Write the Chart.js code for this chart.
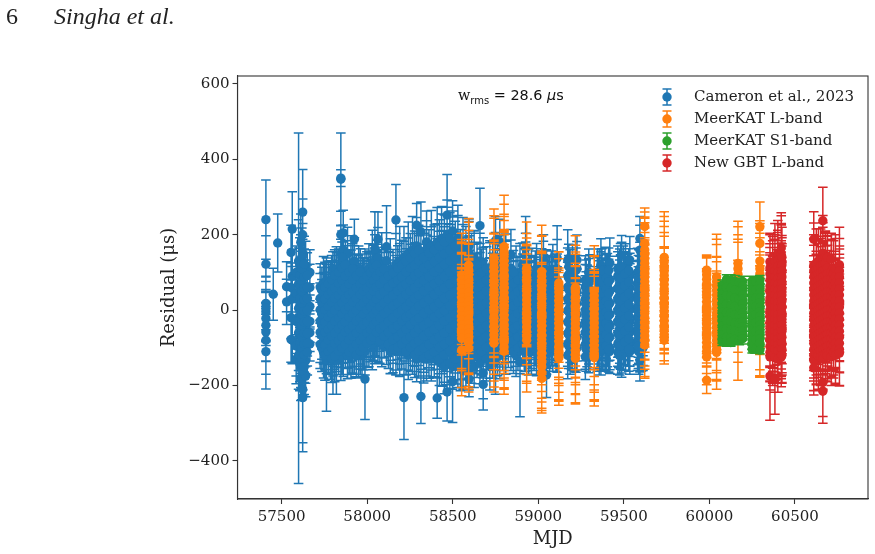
<!DOCTYPE html>
<html>
<head>
<meta charset="utf-8">
<title>Timing residuals</title>
<script src="https://cdn.jsdelivr.net/npm/chart.js@4"></script>
<style>
	body { margin: 0; background: #fff; }
	#wrap { position: relative; width: 875px; height: 554px; overflow: hidden; }
	canvas { position: absolute; left: 0; top: 0; }
	.head { position: absolute; top: 3px; font: 24px "Liberation Serif", serif; color: #222; white-space: nowrap; }
	#wrms { position: absolute; left: 458px; top: 87px; font: 14.4px "DejaVu Sans", sans-serif; color: #111; white-space: nowrap; }
	#wrms .w { font-family: "DejaVu Serif", serif; }
	#wrms sub { font-size: 10px; line-height: 0; }
</style>
</head>
<body>
<div id="wrap">
	<canvas id="residuos" width="875" height="554"></canvas>
	<div class="head" style="left:6px">6</div>
	<div class="head" style="left:54px;font-style:italic">Singha et al.</div>
	<div id="wrms"><span class="w">w</span><sub>rms</sub> = 28.6 <i>μ</i>s</div>
</div>
<script>
const seriesNames = ["Cameron et al., 2023", "MeerKAT L-band", "MeerKAT S1-band", "New GBT L-band"]
const seriesColors = ["#1f77b4", "#ff7f0e", "#2ca02c", "#d62728"]
const xTicks = [57500, 58000, 58500, 59000, 59500, 60000, 60500]
const yTicks = [-400, -200, 0, 200, 400, 600]

// one entry per observing epoch: MJD, then residuals and their errors in microseconds
const blueMjd = [
	57408, 57451, 57477, 57529, 57555, 57562, 57585, 57599, 57612, 57623, 57640, 57665,
	57725, 57745, 57762, 57785, 57800, 57820, 57846, 57860, 57885, 57905, 57925, 57950,
	57970, 57987, 58010, 58030, 58045, 58063, 58085, 58113, 58135, 58168, 58190, 58215,
	58240, 58265, 58289, 58314, 58347, 58375, 58409, 58435, 58467, 58499, 58530, 58560,
	58595, 58625, 58659, 58678, 58717, 58750, 58775, 58810, 58840, 58870, 58893, 58926,
	58960, 58990, 59030, 59048, 59085, 59110, 59172, 59200, 59226, 59275, 59295, 59345,
	59366, 59390, 59418, 59465, 59487, 59510, 59535, 59580, 59594, 59612
]
const blueRes = [
	[240, 122, 18, -4, -22, -40, -58, -80, -110, 5], [42], [178], [22, 62], [153, -20, 60, -78],
	[215, 90, -80, 30], [100, 45, -30, -95, -130], [5, 130, 70, -60, -120],
	[180, 130, 100, 72, 44, 15, -14, -42, -70, -98, -126, -150, -180],
	[260, 200, 150, 112, 84, 56, 28, 0, -28, -56, -84, -112, -140, -168, -210, -232],
	[118, 90, 62, 34, 6, -22, -50, -78, -106, -134, -175], [100, 60, 10, -30, -60, -90],
	[61, 31, 1, -29, -59, -91], [72, 42, 9, -21, -49, -81, -112], [78, 52, 21, -11, -41, -69, -99, -133],
	[59, 29, -3, -31, -61, -89, -122], [110, 71, 39, 11, -19, -51, -79, -111, -133],
	[108, 81, 49, 19, -9, -41, -71, -101, -133], [347, 350, 200, 150, 120, 89, 61, 29, -1, -31, -59, -92, -125],
	[205, 160, 131, 99, 71, 41, 9, -21, -51, -79, -110], [150, 111, 79, 49, 19, -11, -39, -71, -99, -120],
	[122, 91, 59, 29, 1, -31, -61, -89, -121], [188, 130, 101, 69, 39, 11, -19, -51, -79, -110],
	[110, 79, 51, 21, -9, -39, -69, -101, -120], [91, 61, 31, -1, -29, -59, -91, -120],
	[100, 71, 39, 9, -21, -49, -81, -110, -183], [110, 81, 49, 19, -9, -41, -69, -82],
	[122, 89, 61, 31, 1, -29, -61, -90], [162, 130, 101, 69, 41, 9, -19, -51, -80],
	[188, 139, 109, 79, 51, 19, -11, -41, -69, -82], [120, 91, 59, 31, -1, -31, -61, -90],
	[168, 131, 99, 71, 41, 11, -21, -49, -80], [109, 81, 49, 21, -11, -39, -71, -99, -110],
	[239, 121, 91, 61, 29, -1, -29, -59, -91, -110], [130, 99, 69, 41, 11, -19, -51, -81, -110],
	[140, 109, 79, 51, 19, -9, -41, -71, -101, -232], [150, 121, 89, 61, 29, 1, -31, -59, -89, -120],
	[160, 131, 99, 71, 39, 11, -21, -49, -81, -110], [225, 170, 139, 111, 81, 49, 21, -11, -39, -69, -101, -130],
	[208, 150, 119, 91, 59, 31, 1, -29, -61, -91, -120, -229], [181, 161, 129, 101, 69, 39, 11, -19, -51, -79, -111, -130],
	[170, 141, 109, 79, 51, 19, -11, -41, -69, -99, -130], [180, 151, 119, 91, 61, 29, -1, -31, -59, -91, -120, -233],
	[190, 159, 131, 99, 69, 41, 9, -19, -51, -81, -109, -140],
	[252, 200, 169, 141, 111, 79, 49, 21, -9, -41, -71, -101, -140, -217],
	[210, 179, 151, 119, 89, 61, 31, -1, -29, -59, -91, -121, -150, -190],
	[190, 161, 129, 99, 71, 41, 11, -21, -51, -79, -109, -150],
	[170, 139, 111, 81, 49, 19, -9, -39, -71, -101, -131, -160],
	[170, 151, 121, 89, 61, 31, -1, -29, -59, -91, -121, -160, -183],
	[140, 129, 99, 71, 41, 9, -19, -49, -81, -109, -150], [224, 130, 109, 81, 49, 19, -11, -41, -69, -101, -140],
	[120, 89, 61, 29, 1, -31, -59, -91, -120, -167, -197], [110, 99, 71, 39, 11, -21, -51, -79, -109, -150],
	[184, 140, 111, 79, 51, 21, -11, -39, -71, -99, -133], [181, 120, 89, 61, 31, -1, -29, -59, -91, -120],
	[130, 99, 69, 41, 9, -19, -51, -81, -110], [146, 110, 81, 49, 21, -9, -41, -71, -100],
	[90, 61, 29, -1, -29, -59, -91, -120], [99, 71, 39, 11, -21, -51, -79, -109, -137],
	[164, 128, 109, 79, 51, 21, -11, -39, -69, -101], [90, 61, 29, 1, -31, -59, -91, -110],
	[111, 71, 39, 9, -21, -49, -81, -112], [130, 109, 81, 49, 19, -9, -41, -71, -99],
	[90, 61, 31, -1, -29, -59, -91, -110, -172], [108, 71, 39, 11, -19, -51, -79, -100],
	[138, 109, 79, 51, 21, -9, -41, -69, -101], [133, 91, 61, 29, -1, -31, -61, -89, -120],
	[105, 69, 41, 9, -21, -49, -81, -100], [133, 110, 81, 49, 19, -11, -39, -71, -99],
	[80, 61, 29, 1, -31, -59, -91, -124], [100, 71, 39, 11, -19, -51, -79, -106],
	[100, 79, 49, 21, -9, -41, -71, -104], [119, 91, 59, 29, -1, -31, -61, -89, -110],
	[105, 71, 41, 9, -19, -49, -81, -100], [125, 81, 51, 19, -11, -39, -71, -100, -108],
	[110, 91, 59, 31, 1, -29, -61, -89, -112], [146, 110, 69, 39, 11, -21, -49, -81, -109, -118],
	[110, 81, 49, 19, -9, -41, -69, -99], [133, 91, 59, 31, 1, -31, -59, -89, -110],
	[100, 71, 39, 9, -19, -51, -81, -100], [190, 159, 110, 79, 51, 19, -11, -39, -71, -100, -133],
	[100, 91, 59, 29, -1, -31, -61, -89, -100]
]
const blueErr = [
	[105, 75, 70, 80, 72, 95, 78, 90, 99, 85], [69], [77], [60, 66], [72, 55, 65, 60],
	[99, 70, 62, 50], [70, 80, 85, 80, 65], [465, 110, 95, 100, 90],
	[75, 70, 65, 68, 80, 90, 75, 66, 85, 70, 62, 55, 60],
	[113, 95, 80, 76, 70, 85, 62, 90, 75, 68, 80, 66, 72, 60, 142, 144],
	[65, 70, 58, 85, 66, 70, 60, 72, 62, 60, 55], [60, 62, 60, 55, 50, 45],
	[62, 66, 71, 58, 80, 64], [70, 58, 66, 75, 60, 62, 68], [60, 70, 55, 68, 75, 62, 70, 135],
	[72, 64, 58, 70, 66, 55, 62], [45, 60, 58, 66, 72, 80, 70, 64, 90],
	[60, 72, 64, 58, 70, 66, 80, 62, 90], [123, 22, 62, 75, 68, 60, 72, 64, 70, 58, 66, 60, 62],
	[60, 66, 72, 58, 64, 70, 62, 75, 68, 60, 66], [70, 60, 66, 72, 58, 64, 68, 60, 55, 62],
	[75, 68, 60, 72, 64, 58, 66, 62, 60], [53, 62, 70, 58, 66, 72, 60, 64, 70, 60],
	[60, 66, 72, 58, 64, 70, 62, 55, 60], [58, 70, 64, 60, 68, 62, 66, 60],
	[62, 66, 60, 70, 58, 64, 68, 62, 107], [66, 72, 60, 58, 70, 64, 62, 68],
	[90, 60, 72, 66, 58, 64, 62, 68], [99, 70, 64, 60, 72, 66, 58, 70, 62],
	[72, 80, 66, 60, 72, 58, 64, 62, 68, 60], [85, 62, 70, 66, 58, 72, 64, 60],
	[109, 74, 66, 60, 72, 68, 62, 58, 64], [80, 72, 64, 68, 60, 66, 62, 70, 58],
	[94, 82, 70, 64, 72, 60, 66, 58, 68, 62], [92, 78, 66, 72, 60, 64, 68, 62, 66],
	[82, 74, 66, 70, 62, 60, 68, 64, 70, 111], [84, 70, 64, 72, 66, 60, 68, 62, 70, 64],
	[88, 72, 66, 60, 70, 64, 62, 68, 66, 60], [58, 76, 70, 66, 62, 72, 60, 64, 70, 66, 62, 60],
	[79, 72, 80, 66, 62, 70, 60, 64, 68, 66, 60, 72], [82, 76, 70, 64, 66, 60, 72, 62, 68, 60, 64, 58],
	[94, 80, 72, 66, 60, 70, 64, 62, 68, 60, 58], [92, 78, 70, 64, 72, 60, 66, 62, 68, 66, 60, 54],
	[85, 96, 80, 70, 66, 72, 60, 64, 62, 68, 60, 62],
	[108, 92, 104, 88, 76, 70, 64, 72, 60, 66, 68, 62, 58, 77],
	[80, 84, 96, 86, 72, 66, 64, 60, 70, 68, 62, 66, 60, 108],
	[88, 90, 84, 78, 70, 64, 66, 72, 60, 62, 58, 55],
	[76, 88, 80, 72, 66, 62, 68, 64, 60, 58, 52, 50],
	[72, 84, 76, 70, 64, 66, 60, 68, 62, 58, 60, 52, 47],
	[70, 82, 76, 68, 62, 64, 60, 66, 58, 60, 55], [99, 74, 68, 72, 64, 60, 66, 62, 58, 60, 55],
	[72, 78, 70, 62, 66, 60, 64, 58, 60, 68, 68], [74, 80, 68, 64, 60, 66, 62, 58, 72, 62],
	[64, 66, 76, 70, 62, 60, 66, 64, 58, 60, 90], [60, 78, 70, 64, 60, 62, 66, 58, 60, 62],
	[72, 84, 68, 62, 64, 60, 66, 58, 60], [68, 76, 70, 64, 62, 60, 58, 66, 60],
	[80, 70, 66, 62, 60, 64, 58, 56], [78, 72, 66, 62, 60, 58, 64, 60, 146],
	[84, 76, 72, 66, 62, 60, 58, 64, 60, 62], [74, 68, 62, 60, 66, 58, 64, 60],
	[66, 70, 62, 60, 58, 64, 60, 62], [70, 74, 66, 62, 60, 58, 64, 60, 62],
	[70, 66, 62, 60, 58, 64, 60, 60, 60], [66, 70, 64, 60, 58, 62, 60, 62],
	[86, 78, 70, 64, 60, 62, 58, 60, 64], [80, 74, 66, 62, 60, 64, 58, 60, 62],
	[68, 72, 64, 60, 58, 62, 60, 60], [66, 72, 64, 60, 62, 58, 60, 64, 60],
	[64, 60, 62, 58, 60, 62, 66, 60], [62, 66, 60, 58, 62, 60, 64, 60],
	[62, 60, 58, 62, 60, 64, 60, 58], [70, 64, 60, 62, 58, 60, 64, 60, 62],
	[62, 64, 60, 58, 62, 60, 64, 60], [66, 62, 60, 58, 64, 60, 62, 58, 60],
	[60, 64, 62, 58, 60, 62, 64, 60, 58], [52, 70, 64, 60, 58, 62, 60, 64, 58, 60],
	[66, 62, 60, 58, 64, 60, 62, 60], [62, 60, 64, 58, 60, 62, 64, 60, 60],
	[64, 60, 62, 58, 60, 62, 64, 60], [58, 66, 70, 64, 62, 60, 58, 62, 60, 64, 55],
	[60, 62, 64, 58, 60, 62, 60, 58, 60]
]

// denser epochs inside the crowded stretch, one typical error per epoch
const blueDenseMjd = [
	57606, 57618, 57632, 57650, 57735, 57753, 57773, 57792, 57810, 57833, 57853, 57872, 57895,
	57915, 57937, 57960, 57978, 57998, 58020, 58037, 58054, 58074, 58099, 58124, 58151, 58179,
	58202, 58227, 58252, 58277, 58301, 58330, 58361, 58392, 58422, 58451, 58483, 58515, 58545,
	58577, 58610, 58642, 58668, 58697, 58733, 58762, 58792, 58825, 58855, 58881, 58909, 58943,
	58975, 59010, 59039, 59066, 59097, 59186, 59213, 59285, 59356, 59378, 59404, 59476, 59498,
	59522, 59587, 59603,
	58918, 58951, 58983, 59020, 59057, 59076, 59103, 59178, 59193, 59220, 59280, 59302, 59350,
	59372, 59397, 59411, 59470, 59481, 59505, 59529, 59585
]
const blueDenseRes = [
	[120, 92, 60, 31, 2, -27, -60, -88, -118, -142],
	[140, 110, 78, 50, 19, -12, -41, -72, -100, -128, -160],
	[122, 88, 59, 28, -3, -32, -61, -90, -118, -150],
	[92, 60, 31, -1, -30, -62, -88, -112],
	[52, 19, -11, -41, -68, -101],
	[61, 29, 1, -31, -59, -92, -120],
	[70, 41, 9, -19, -51, -79, -110],
	[81, 49, 21, -9, -41, -69, -101, -128],
	[92, 59, 31, -1, -29, -61, -89, -122],
	[100, 71, 39, 11, -21, -49, -81, -109],
	[140, 111, 79, 51, 19, -11, -39, -71, -101],
	[120, 91, 59, 31, 1, -31, -59, -91],
	[100, 69, 41, 9, -19, -51, -79, -111],
	[110, 81, 49, 21, -9, -41, -69, -101],
	[91, 59, 31, -1, -29, -61, -91, -119],
	[101, 69, 41, 11, -21, -49, -81, -109],
	[79, 51, 19, -11, -39, -71, -99],
	[91, 59, 29, 1, -31, -61, -88],
	[99, 71, 39, 9, -19, -51, -79],
	[110, 79, 51, 21, -11, -39, -71],
	[119, 91, 61, 29, -1, -31, -59],
	[101, 69, 41, 9, -21, -49, -81],
	[109, 81, 49, 19, -9, -41, -69],
	[91, 61, 29, 1, -31, -59, -91],
	[99, 71, 39, 11, -21, -49, -79, -104],
	[111, 79, 51, 19, -9, -41, -71, -99],
	[119, 89, 61, 31, -1, -29, -61, -90],
	[130, 101, 69, 41, 9, -19, -51, -79, -110],
	[139, 111, 79, 51, 21, -11, -39, -71, -99],
	[150, 119, 91, 59, 31, -1, -29, -61, -89, -119],
	[159, 131, 99, 71, 39, 11, -21, -49, -81, -109],
	[140, 111, 79, 51, 19, -9, -41, -69, -101, -129],
	[151, 119, 89, 61, 29, 1, -31, -59, -91, -119],
	[160, 129, 101, 69, 41, 9, -19, -51, -79, -111],
	[170, 139, 111, 79, 51, 19, -9, -41, -71, -99, -130],
	[180, 149, 121, 89, 59, 31, -1, -29, -61, -91, -119, -150],
	[190, 159, 131, 101, 69, 39, 11, -21, -49, -81, -109, -140],
	[170, 141, 109, 79, 49, 21, -11, -39, -71, -101, -130],
	[150, 119, 91, 59, 31, 1, -31, -59, -89, -121, -150],
	[160, 131, 99, 71, 39, 9, -19, -51, -81, -109, -140],
	[140, 111, 79, 51, 21, -9, -41, -69, -101, -130],
	[120, 89, 61, 29, 1, -31, -59, -91, -119],
	[100, 71, 39, 11, -21, -49, -81, -110],
	[110, 79, 51, 19, -9, -41, -71, -99, -130],
	[120, 91, 59, 31, -1, -29, -61, -89, -120],
	[130, 99, 71, 39, 9, -19, -51, -81, -110],
	[110, 79, 51, 19, -9, -41, -69, -100],
	[90, 59, 31, -1, -29, -61, -90],
	[100, 71, 39, 11, -21, -49, -81, -110],
	[80, 49, 21, -9, -41, -71, -100],
	[120, 91, 59, 31, 1, -31, -59, -90],
	[100, 69, 41, 9, -19, -51, -79, -110],
	[80, 51, 19, -11, -39, -71, -100],
	[90, 61, 29, -1, -31, -59, -90],
	[100, 71, 39, 11, -21, -49, -81, -110],
	[80, 49, 21, -9, -41, -69, -100],
	[90, 59, 31, 1, -29, -61, -90],
	[100, 69, 41, 9, -21, -49, -79, -110],
	[80, 51, 19, -11, -39, -71, -100],
	[60, 31, -1, -29, -61, -90],
	[100, 69, 41, 9, -19, -51, -81, -110],
	[80, 49, 21, -11, -41, -69, -100],
	[90, 61, 29, 1, -31, -59, -90],
	[100, 71, 39, 9, -21, -49, -79, -110],
	[110, 79, 51, 19, -9, -41, -71, -100],
	[90, 61, 29, -1, -29, -61, -90],
	[100, 69, 41, 11, -19, -51, -81, -110],
	[80, 49, 19, -9, -41, -69, -100],
	[105, 74, 46, 15, -14, -45, -75, -104],
	[85, 55, 26, -4, -35, -66, -95],
	[95, 64, 36, 5, -25, -56, -85],
	[105, 76, 45, 14, -16, -45, -76, -105],
	[85, 54, 25, -5, -36, -64, -95],
	[95, 66, 35, 4, -26, -55, -84],
	[75, 44, 15, -15, -44, -75, -105],
	[115, 85, 54, 25, -5, -34, -65, -95],
	[85, 56, 24, -6, -35, -66, -94],
	[105, 75, 45, 14, -15, -46, -75, -105],
	[75, 44, 16, -14, -45, -76, -104],
	[85, 54, 25, -5, -35, -64, -95],
	[85, 55, 24, -6, -36, -65, -94],
	[105, 74, 45, 15, -16, -45, -75, -104],
	[85, 56, 25, -4, -35, -66, -95],
	[105, 75, 44, 14, -15, -46, -75, -104],
	[85, 54, 25, -5, -34, -65, -95],
	[115, 85, 55, 24, -6, -35, -66, -95],
	[95, 65, 34, 5, -25, -56, -85],
	[105, 75, 44, 15, -15, -45, -76, -104],
	[85, 55, 25, -4, -36, -65, -95]
]
const blueDenseErr = [
	72, 78, 74, 60, 62, 66, 60, 64, 68, 62, 70, 64, 60, 66, 58, 62, 60, 64, 58, 62, 66, 60, 58, 64, 62, 60,
	66, 62, 64, 60, 66, 64, 62, 66, 70, 72, 68, 66, 64, 62, 64, 60, 62, 58, 60, 64, 60, 62, 58, 60, 58, 62,
	60, 58, 60, 62, 58, 60, 62, 60, 62, 58, 60, 62, 60, 58, 60, 62,
	58, 60, 62, 58, 60, 62, 58, 60, 62, 60, 58, 62, 60, 58, 62, 60, 58, 62, 60, 58, 60
]

const orangeMjd = [58552, 58593, 58741, 58800, 58932, 59020, 59120, 59217, 59327, 59622, 59736, 59984, 60042, 60167, 60295]
const orangeRes = [
	[93, 81, 69, 57, 45, 33, 21, 9, -3, -15, -27, -39, -51, -63, -75, -106],
	[119, 107, 95, 83, 71, 59, 47, 35, 23, 11, -1, -13, -25, -37, -49, -61, -73, -85, -101],
	[138, 126, 114, 102, 90, 78, 66, 54, 42, 30, 18, 6, -6, -18, -30, -42, -54, -66, -78, -88],
	[168, 155, 142, 130, 118, 106, 94, 82, 70, 58, 46, 34, 22, 10, -2, -14, -26, -38, -50, -62, -74, -86, -98, -109],
	[111, 99, 87, 75, 63, 51, 39, 27, 15, 3, -9, -21, -33, -45, -57, -69, -80],
	[102, 90, 78, 66, 54, 42, 30, 18, 6, -6, -18, -30, -42, -54, -66, -78, -90, -102, -114, -126, -138, -150, -166, -181],
	[72, 60, 48, 36, 24, 12, 0, -12, -24, -36, -48, -60, -72, -84, -96, -108, -118, -127],
	[60, 48, 36, 24, 12, 0, -12, -24, -36, -48, -60, -72, -84, -96, -108, -118, -128],
	[50, 38, 26, 14, 2, -10, -22, -34, -46, -58, -70, -82, -94, -106, -118, -126],
	[222, 177, 160, 148, 136, 124, 112, 100, 88, 76, 64, 52, 40, 28, 16, 4, -8, -20, -32, -44, -56, -68, -80, -92],
	[140, 128, 116, 104, 92, 80, 68, 56, 44, 32, 20, 8, -4, -16, -28, -40, -52, -64, -72, -80],
	[106, 94, 82, 70, 58, 46, 34, 22, 10, -2, -14, -26, -38, -50, -62, -74, -86, -98, -110, -124, -186],
	[88, 76, 64, 52, 40, 28, 16, 4, -8, -20, -32, -44, -56, -68, -80, -92, -104, -112],
	[124, 110, 95, 80, 70, 40, 10, -20, -50, -70],
	[221, 177, 130, 110, 96, 84, 50, 10, -30, -70, -90, -100]
]
const orangeErr = [
	[111, 96, 118, 124, 104, 88, 132, 100, 116, 92, 128, 121, 110, 98, 130, 121],
	[124, 104, 138, 92, 116, 128, 98, 142, 110, 126, 96, 116, 104, 130, 122, 108, 136, 118, 116],
	[130, 118, 136, 102, 92, 124, 110, 132, 98, 118, 142, 129, 108, 122, 96, 116, 134, 104, 126, 129],
	[137, 126, 112, 118, 96, 132, 106, 124, 140, 108, 128, 114, 98, 120, 134, 102, 116, 130, 110, 124, 106, 120, 112, 114],
	[123, 104, 116, 96, 128, 110, 136, 122, 106, 131, 118, 124, 112, 126, 137, 120, 137],
	[123, 106, 118, 132, 96, 112, 126, 104, 120, 110, 98, 104, 122, 116, 132, 108, 126, 114, 102, 118, 96, 110, 100, 92],
	[83, 94, 106, 118, 88, 124, 100, 112, 130, 102, 136, 118, 128, 110, 122, 134, 120, 125],
	[137, 124, 112, 130, 104, 118, 136, 96, 122, 132, 118, 126, 108, 128, 114, 128, 121],
	[121, 106, 118, 128, 96, 112, 130, 124, 106, 118, 128, 136, 118, 132, 124, 128],
	[49, 70, 100, 96, 82, 108, 74, 92, 118, 98, 86, 100, 76, 110, 94, 84, 104, 78, 98, 88, 92, 89, 96, 89],
	[121, 108, 132, 118, 104, 126, 96, 112, 88, 74, 92, 110, 84, 100, 78, 74, 82, 79, 71, 63],
	[38, 44, 60, 76, 52, 92, 68, 80, 56, 66, 72, 84, 78, 90, 64, 74, 82, 70, 88, 60, 35],
	[113, 98, 124, 88, 102, 76, 112, 94, 106, 86, 100, 84, 110, 92, 104, 96, 106, 98],
	[112, 90, 126, 100, 118, 92, 78, 92, 88, 116],
	[66, 60, 100, 82, 96, 120, 96, 108, 88, 88, 84, 78]
]

const greenMjd = [60075, 60100, 60125, 60150, 60175, 60194, 60250, 60272, 60295]
const greenRes = [
	[66, 54, 42, 30, 18, 6, -6, -18, -30, -42, -54, -66, -78, -84],
	[82, 60, 38, 16, -6, -28, -50, -72, -84],
	[80, 58, 36, 14, -8, -30, -52, -74, -86],
	[76, 54, 32, 10, -12, -34, -56, -78],
	[74, 52, 30, 8, -14, -36, -58, -80],
	[76, 64, 52, 40, 28, 16, 4, -8, -20, -32, -44, -56, -68, -76],
	[78, 66, 54, 42, 30, 18, 6, -6, -18, -30, -42, -54, -66, -78, -90, -104],
	[76, 54, 32, 10, -12, -34, -56, -78, -104],
	[80, 68, 56, 44, 32, 20, 8, -4, -16, -28, -40, -52, -64, -76, -88, -106]
]
const greenErr = [
	[14, 18, 12, 16, 20, 14, 12, 10, 16, 18, 14, 12, 10, 10],
	[12, 16, 20, 14, 18, 12, 16, 14, 12],
	[14, 12, 18, 16, 14, 20, 12, 16, 10],
	[16, 14, 12, 18, 20, 16, 12, 14],
	[10, 14, 18, 12, 16, 20, 14, 12],
	[14, 16, 12, 18, 14, 20, 12, 14, 16, 18, 12, 14, 12, 14],
	[12, 14, 18, 16, 12, 20, 14, 16, 18, 12, 14, 16, 20, 12, 14, 10],
	[14, 12, 16, 20, 14, 12, 18, 14, 10],
	[12, 16, 14, 18, 12, 16, 20, 14, 12, 16, 18, 14, 12, 16, 14, 10]
]

const redMjd = [60354, 60370, 60383, 60400, 60420, 60424, 60610, 60625, 60637, 60650, 60663, 60678, 60690, 60712, 60725, 60737, 60760]
const redRes = [
	[128, 112, 96, 80, 64, 48, 32, 16, 0, -16, -32, -48, -64, -80, -96, -112, -124, -175],
	[125, 108, 92, 76, 60, 44, 28, 12, -4, -20, -36, -52, -68, -84, -100, -116],
	[130, 104, 88, 72, 56, 40, 24, 8, -8, -24, -40, -56, -72, -88, -104, -126, -184],
	[150, 132, 116, 100, 84, 68, 52, 36, 20, 4, -12, -28, -44, -60, -76, -92, -108, -130],
	[165, 148, 130, 112, 96, 80, 64, 48, 32, 16, 0, -16, -32, -48, -64, -80, -96, -112, -124],
	[140, 120, 104, 88, 72, 56, 40, 24, 8, -8, -24, -40, -56, -72, -88, -104, -120],
	[188, 119, 104, 88, 72, 56, 40, 24, 8, -8, -24, -40, -56, -72, -88, -104, -120, -133, -153],
	[125, 108, 92, 76, 60, 44, 28, 12, -4, -20, -36, -52, -68, -84, -100, -116],
	[130, 112, 96, 80, 64, 48, 32, 16, 0, -16, -32, -48, -64, -80, -96, -112, -122],
	[135, 118, 100, 84, 68, 52, 36, 20, 4, -12, -28, -44, -60, -76, -92, -108, -124],
	[237, 151, 136, 120, 104, 88, 72, 56, 40, 24, 8, -8, -24, -40, -56, -72, -88, -104, -120, -130, -192, -215],
	[140, 124, 108, 92, 76, 60, 44, 28, 12, -4, -20, -36, -52, -68, -84, -100, -116],
	[140, 112, 96, 80, 64, 48, 32, 16, 0, -16, -32, -48, -64, -80, -96, -112, -120],
	[135, 100, 84, 68, 52, 36, 20, 4, -12, -28, -44, -60, -76, -92, -108, -124],
	[112, 96, 80, 64, 48, 32, 16, 0, -16, -32, -48, -64, -80, -96, -112],
	[110, 88, 72, 56, 40, 24, 8, -8, -24, -40, -56, -72, -88, -104, -120],
	[120, 104, 88, 72, 56, 40, 24, 8, -8, -24, -40, -56, -72, -88, -104, -114]
]
const redErr = [
	[76, 88, 70, 96, 82, 104, 74, 90, 78, 66, 88, 100, 84, 72, 92, 78, 88, 117],
	[70, 92, 84, 108, 76, 98, 66, 104, 80, 92, 72, 100, 86, 78, 94, 84],
	[100, 84, 112, 76, 92, 68, 104, 80, 96, 72, 86, 108, 74, 90, 82, 92, 92],
	[80, 106, 90, 112, 76, 98, 84, 70, 92, 104, 78, 88, 100, 68, 94, 82, 76, 88],
	[85, 110, 96, 118, 82, 104, 90, 76, 100, 88, 94, 72, 84, 108, 74, 92, 80, 70, 79],
	[80, 72, 94, 82, 104, 70, 90, 76, 98, 84, 92, 68, 86, 100, 78, 88, 74],
	[73, 112, 96, 84, 118, 72, 104, 90, 78, 108, 84, 92, 72, 88, 100, 76, 94, 80, 72],
	[90, 80, 104, 72, 96, 84, 70, 108, 78, 92, 86, 100, 74, 88, 96, 82],
	[86, 104, 92, 76, 112, 84, 98, 70, 106, 80, 88, 96, 74, 90, 82, 100, 88],
	[80, 72, 96, 84, 70, 104, 78, 92, 86, 100, 74, 88, 96, 82, 70, 90, 76],
	[89, 100, 84, 112, 76, 96, 104, 72, 90, 110, 82, 96, 80, 90, 76, 100, 84, 88, 92, 80, 90, 85],
	[64, 84, 102, 92, 76, 110, 88, 72, 98, 80, 70, 94, 84, 100, 78, 88, 74],
	[64, 84, 102, 92, 76, 110, 88, 72, 98, 80, 70, 92, 84, 78, 94, 70, 70],
	[69, 88, 104, 80, 94, 72, 110, 86, 76, 82, 66, 92, 78, 84, 70, 76],
	[72, 88, 76, 92, 84, 70, 96, 78, 86, 92, 74, 88, 80, 76, 68],
	[90, 102, 84, 76, 96, 110, 70, 88, 92, 78, 96, 84, 74, 90, 76],
	[100, 86, 74, 98, 82, 108, 90, 76, 104, 87, 94, 80, 92, 78, 96, 87]
]

const toPoints = (mjd, res, err) => mjd.flatMap((x, i) => res[i].map((y, j) => ({ x, y, err: err[i][j] ?? err[i][0] })))
const toDensePoints = (mjd, res, err) => mjd.flatMap((x, i) => res[i].map(y => ({ x, y, err: err[i] })))

const seriesPoints = [
	toPoints(blueMjd, blueRes, blueErr).concat(toDensePoints(blueDenseMjd, blueDenseRes, blueDenseErr)),
	toPoints(orangeMjd, orangeRes, orangeErr),
	toPoints(greenMjd, greenRes, greenErr),
	toPoints(redMjd, redRes, redErr)
]

const markerRadius = 4.7
const capHalf = 4.8

// whiskers go down just before each dataset's own markers, so later series cover earlier ones
const errorBars = {
	id: 'errorBars',
	beforeDatasetDraw(chart, args) {
		const { ctx, scales } = chart
		const ds = chart.data.datasets[args.index]
		ctx.save()
		ctx.strokeStyle = ds.backgroundColor
		ctx.lineWidth = 1.5
		ctx.beginPath()
		ds.data.forEach(p => {
			const x = scales.x.getPixelForValue(p.x)
			const hi = scales.y.getPixelForValue(p.y + p.err)
			const lo = scales.y.getPixelForValue(p.y - p.err)
			ctx.moveTo(x, hi)
			ctx.lineTo(x, lo)
			ctx.moveTo(x - capHalf, hi)
			ctx.lineTo(x + capHalf, hi)
			ctx.moveTo(x - capHalf, lo)
			ctx.lineTo(x + capHalf, lo)
		})
		ctx.stroke()
		ctx.restore()
	}
}

// closes the box on all four sides and moves the legend to the upper right
const frame = {
	id: 'frame',
	afterLayout(chart) {
		chart.legend.left = 640.5
		chart.legend.top = 82.5
	},
	afterDraw(chart) {
		const { ctx, chartArea: a } = chart
		ctx.save()
		ctx.strokeStyle = '#333'
		ctx.lineWidth = 1.1
		ctx.strokeRect(a.left, a.top, a.right - a.left, a.bottom - a.top)
		ctx.restore()
	}
}

const legendHandle = color => {
	const c = document.createElement('canvas')
	c.width = 26
	c.height = 20
	const g = c.getContext('2d')
	g.strokeStyle = color
	g.fillStyle = color
	g.lineWidth = 1.5
	g.beginPath()
	g.moveTo(13, 2)
	g.lineTo(13, 18)
	g.moveTo(8.5, 2)
	g.lineTo(17.5, 2)
	g.moveTo(8.5, 18)
	g.lineTo(17.5, 18)
	g.stroke()
	g.beginPath()
	g.arc(13, 10, markerRadius, 0, Math.PI * 2)
	g.fill()
	return c
}

const serifFont = 'DejaVu Serif'

new Chart(document.getElementById('residuos'), {
	type: 'scatter',
	data: {
		datasets: seriesNames.map((label, i) => ({
			label,
			data: seriesPoints[i],
			backgroundColor: seriesColors[i],
			pointRadius: markerRadius,
			pointBorderWidth: 0,
			order: seriesNames.length - i
		}))
	},
	plugins: [errorBars, frame],
	options: {
		responsive: false,
		animation: false,
		layout: { padding: { left: 159, top: 76, right: 7, bottom: 0 } },
		plugins: {
			tooltip: { enabled: false },
			legend: {
				position: 'chartArea',
				align: 'start',
				labels: {
					color: '#222',
					font: { family: serifFont, size: 15 },
					usePointStyle: true,
					pointStyleWidth: 39,
					padding: 7,
					generateLabels: chart => chart.data.datasets.map((ds, i) => ({
						text: ds.label,
						pointStyle: legendHandle(ds.backgroundColor),
						fontColor: '#222',
						datasetIndex: i
					}))
				}
			}
		},
		scales: {
			x: {
				type: 'linear',
				min: 57242,
				max: 60927,
				afterBuildTicks: axis => { axis.ticks = xTicks.map(value => ({ value })) },
				afterFit: axis => { axis.height = 55 },
				grid: { drawOnChartArea: false, color: '#333', tickLength: 5, tickWidth: 1.1 },
				border: { color: '#333', width: 1.1 },
				ticks: {
					color: '#222',
					maxRotation: 0,
					autoSkip: false,
					padding: 4,
					font: { family: serifFont, size: 15 },
					callback: v => String(v)
				},
				title: { display: true, text: 'MJD', color: '#222', font: { family: serifFont, size: 18 }, padding: { top: 0, bottom: 4 } }
			},
			y: {
				min: -501,
				max: 621,
				afterBuildTicks: axis => { axis.ticks = yTicks.map(value => ({ value })) },
				afterFit: axis => { axis.width = 78.5 },
				grid: { drawOnChartArea: false, color: '#333', tickLength: 5, tickWidth: 1.1 },
				border: { color: '#333', width: 1.1 },
				ticks: {
					color: '#222',
					autoSkip: false,
					padding: 3,
					font: { family: serifFont, size: 15 },
					callback: v => (v < 0 ? '\u2212' + Math.abs(v) : String(v))
				},
				title: { display: true, text: 'Residual (μs)', color: '#222', font: { family: serifFont, size: 18 }, padding: { top: 0, bottom: 0 } }
			}
		}
	}
})
</script>
</body>
</html>
